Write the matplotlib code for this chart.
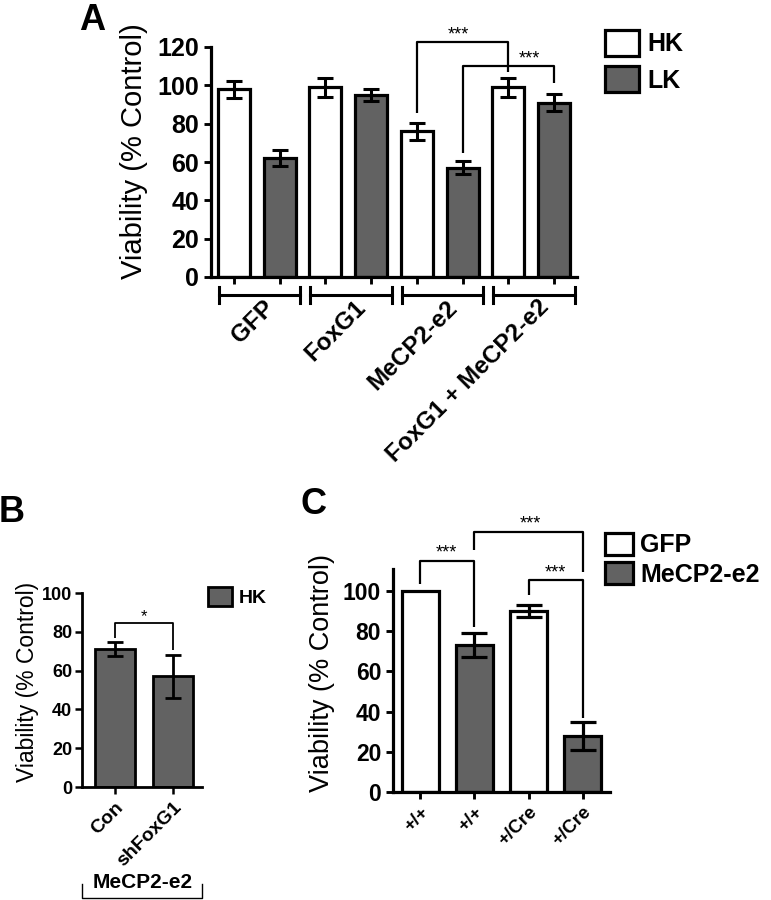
import matplotlib
matplotlib.use("Agg")
import matplotlib.pyplot as plt
from matplotlib.patches import Patch
import numpy as np

plt.rcParams["font.family"] = ["Liberation Sans", "DejaVu Sans"]

# ---------------- data ----------------
# Panel A: viability in high K+ (HK) and low K+ (LK)
groups_a = ["GFP", "FoxG1", "MeCP2-e2", "FoxG1 + MeCP2-e2"]
hk_mean = [98, 99, 76, 99]
hk_err = [4.5, 5, 4.5, 5]
lk_mean = [62, 95, 57, 91]
lk_err = [4, 3, 3.5, 4.5]

# Panel B: MeCP2-e2 cells, HK
labels_b = ["Con", "shFoxG1"]
b_mean = [71, 57]
b_err = [3.5, 11]

# Panel C: GFP vs MeCP2-e2 in +/+ and +/Cre
labels_c = ["+/+", "+/+", "+/Cre", "+/Cre"]
c_mean = [100, 73, 90, 28]
c_err = [0, 6, 3, 7]
c_kind = ["GFP", "MeCP2-e2", "GFP", "MeCP2-e2"]

GREY = "#626262"
W, H = 771, 900

fig = plt.figure(figsize=(W / 100, H / 100), dpi=100)


def style_axes(ax, lw):
    for s in ["top", "right"]:
        ax.spines[s].set_visible(False)
    for s in ["left", "bottom"]:
        ax.spines[s].set_linewidth(lw)
    ax.tick_params(direction="out", width=lw * 0.9, length=5)


def bracket(ax, x0, y0, x1, y1, ytop, lw=1.6):
    ax.plot([x0, x0, x1, x1], [y0, ytop, ytop, y1], color="black",
            lw=lw, clip_on=False, solid_capstyle="butt")


def legend_at(ax, handles, x_px, y_px, size, **kw):
    ax.legend(handles=handles, loc="upper left",
              bbox_to_anchor=(x_px / W, 1 - y_px / H),
              bbox_transform=fig.transFigure, frameon=False, borderpad=0,
              borderaxespad=0, prop=dict(size=size, weight="bold"), **kw)


# ---------------- Panel A ----------------
axA = fig.add_axes([211 / W, 1 - 277 / H, 366 / W, 230 / H])
xs = np.arange(8)
means_a = [v for pair in zip(hk_mean, lk_mean) for v in pair]
errs_a = [v for pair in zip(hk_err, lk_err) for v in pair]
cols_a = ["white", GREY] * 4
axA.bar(xs, means_a, width=0.7, color=cols_a, edgecolor="black",
        linewidth=2.3, yerr=errs_a, capsize=5.5,
        error_kw=dict(elinewidth=2.2, capthick=2.2, ecolor="black"))
axA.set_xlim(-0.5, 7.5)
axA.set_ylim(0, 120)
axA.set_yticks(range(0, 121, 20))
axA.set_xticks(xs)
axA.set_xticklabels([])
style_axes(axA, 2.3)
axA.tick_params(axis="y", labelsize=18)
for lab in axA.get_yticklabels():
    lab.set_fontweight("bold")
axA.set_ylabel("Viability (% Control)", fontsize=21)
axA.yaxis.set_label_coords(-0.172, 0.548)

# group brackets under the x axis
for k, g in enumerate(groups_a):
    x0, x1 = 2 * k - 0.33, 2 * k + 1.45
    axA.plot([x0, x1], [-9.4, -9.4], color="black", lw=2.2, clip_on=False)
    for xe in (x0, x1):
        axA.plot([xe, xe], [-13.5, -5.3], color="black", lw=2.2,
                 clip_on=False)
    axA.text(2 * k + 0.8, -14, g, rotation=45, rotation_mode="anchor",
             ha="right", va="center", fontsize=17.5, fontweight="bold")

bracket(axA, 4, 85.5, 6, 107, 122.6)
axA.text(4.9, 121.8, "***", ha="center", va="bottom", fontsize=13)
bracket(axA, 5, 64.7, 7, 101.2, 110)
axA.text(6.46, 109.2, "***", ha="center", va="bottom", fontsize=13)

legend_at(axA, [Patch(facecolor="white", edgecolor="black", lw=2.3, label="HK"),
                Patch(facecolor=GREY, edgecolor="black", lw=2.3, label="LK")],
          605, 30, 18, handlelength=1.35, handleheight=1.2,
          handletextpad=0.35, labelspacing=0.4)

fig.text(92 / W, 1 - 20 / H, "A", fontsize=26, fontweight="bold",
         ha="center", va="center")

# ---------------- Panel B ----------------
axB = fig.add_axes([82 / W, 1 - 787 / H, 120 / W, 194 / H])
xb = np.arange(2)
axB.bar(xb, b_mean, width=0.69, color=GREY, edgecolor="black",
        linewidth=2.0, yerr=b_err, capsize=6,
        error_kw=dict(elinewidth=2.0, capthick=2.0, ecolor="black"))
axB.set_xlim(-0.57, 1.5)
axB.set_ylim(0, 100)
axB.set_yticks(range(0, 101, 20))
axB.set_xticks(xb)
axB.set_xticklabels(labels_b, rotation=45, ha="right",
                    rotation_mode="anchor", fontsize=14, fontweight="bold")
style_axes(axB, 2.0)
axB.tick_params(axis="y", labelsize=13, pad=2)
for lab in axB.get_yticklabels():
    lab.set_fontweight("bold")
axB.set_ylabel("Viability (% Control)", fontsize=16.5)
axB.yaxis.set_label_coords(-0.36, 0.541)

bracket(axB, 0, 77, 1, 70.6, 84.5, lw=1.3)
axB.text(0.5, 84.0, "*", ha="center", va="bottom", fontsize=12)

# MeCP2-e2 bracket beneath panel B
axB.plot([-0.57, -0.57, 1.5, 1.5], [-50, -57, -57, -50], color="black",
         lw=1.0, clip_on=False)
axB.text(0.47, -54, "MeCP2-e2", ha="center", va="bottom", fontsize=15,
         fontweight="bold")

legend_at(axB, [Patch(facecolor=GREY, edgecolor="black", lw=2.0, label="HK")],
          208, 587, 14, handlelength=1.25, handleheight=1.1,
          handletextpad=0.35)

fig.text(12 / W, 1 - 512 / H, "B", fontsize=26, fontweight="bold",
         ha="center", va="center")

# ---------------- Panel C ----------------
axC = fig.add_axes([393 / W, 1 - 792 / H, 217 / W, 223 / H])
xc = np.arange(4)
cols_c = ["white" if k == "GFP" else GREY for k in c_kind]
axC.bar(xc, c_mean, width=0.68, color=cols_c, edgecolor="black",
        linewidth=2.3)
axC.errorbar(xc[1:], c_mean[1:], yerr=c_err[1:], fmt="none", ecolor="black",
             elinewidth=2.3, capsize=9.5, capthick=2.3)
axC.set_xlim(-0.5, 3.5)
axC.set_ylim(0, 111)
axC.set_yticks(range(0, 101, 20))
axC.set_xticks(xc)
axC.set_xticklabels(labels_c, rotation=45, ha="right",
                    rotation_mode="anchor", fontsize=13.5, fontweight="bold")
style_axes(axC, 2.3)
axC.tick_params(axis="y", labelsize=16.5)
for lab in axC.get_yticklabels():
    lab.set_fontweight("bold")
axC.set_ylabel("Viability (% Control)", fontsize=19.5)
axC.yaxis.set_label_coords(-0.267, 0.533)

bracket(axC, 0, 103.5, 1, 82, 115)
axC.text(0.48, 114.5, "***", ha="center", va="bottom", fontsize=13)
bracket(axC, 1, 120.4, 3, 109.5, 129.4)
axC.text(2.03, 129.0, "***", ha="center", va="bottom", fontsize=13)
bracket(axC, 2, 98, 3, 37, 105.5)
axC.text(2.49, 105.0, "***", ha="center", va="bottom", fontsize=13)

legend_at(axC, [Patch(facecolor="white", edgecolor="black", lw=2.3, label="GFP"),
                Patch(facecolor=GREY, edgecolor="black", lw=2.3, label="MeCP2-e2")],
          605, 533, 18, handlelength=1.1, handleheight=0.95,
          handletextpad=0.3, labelspacing=0.2)

fig.text(313 / W, 1 - 505 / H, "C", fontsize=26, fontweight="bold",
         ha="center", va="center")

fig.savefig("out.png", dpi=100)
